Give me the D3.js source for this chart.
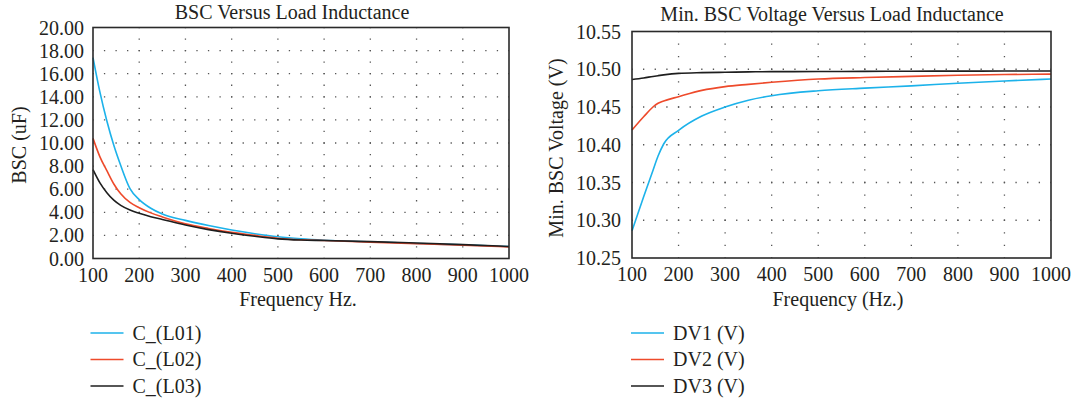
<!DOCTYPE html>
<html>
<head>
<meta charset="utf-8">
<script src="https://cdn.jsdelivr.net/npm/d3@7"></script>
<style>
  body { margin: 0; background: #fff; }
  svg { display: block; }
  text { font-family: "Liberation Serif", "DejaVu Serif", serif; fill: #231f20; }
</style>
</head>
<body>
<svg id="drawing_region"></svg>
<script>
// left panel: BSC (uF)
const freqL = [100, 115, 130, 145, 160, 180, 200, 225, 250, 300, 350, 400, 450, 500, 550, 600, 700, 800, 900, 1000];
const cL01 = [17.4, 14.4, 11.9, 9.8, 8.05, 6.05, 5.1, 4.35, 3.85, 3.3, 2.85, 2.47, 2.15, 1.88, 1.7, 1.58, 1.45, 1.3, 1.18, 1.03];
const cL02 = [10.4, 8.8, 7.6, 6.45, 5.6, 4.85, 4.4, 3.95, 3.6, 3.0, 2.6, 2.27, 2.0, 1.76, 1.62, 1.56, 1.42, 1.28, 1.15, 1.0];
const cL03 = [7.7, 6.55, 5.7, 5.05, 4.6, 4.2, 3.92, 3.62, 3.38, 2.9, 2.5, 2.18, 1.92, 1.7, 1.6, 1.56, 1.46, 1.34, 1.2, 1.04];

// right panel: min BSC voltage (V)
const freqR = [100, 125, 145, 156, 168, 200, 250, 300, 350, 400, 500, 600, 700, 800, 900, 1000];
const dv1 = [10.286, 10.331, 10.366, 10.385, 10.401, 10.419, 10.438, 10.450, 10.459, 10.465, 10.4715, 10.475, 10.478, 10.4815, 10.4845, 10.487];
const dv2 = [10.4195, 10.437, 10.450, 10.455, 10.458, 10.4637, 10.472, 10.477, 10.480, 10.4827, 10.487, 10.489, 10.4905, 10.492, 10.493, 10.4935];
const dv3 = [10.4865, 10.4885, 10.4905, 10.4915, 10.4925, 10.4945, 10.4955, 10.496, 10.4965, 10.4968, 10.497, 10.4972, 10.4974, 10.4975, 10.4976, 10.4977];

const xTicks = [100, 200, 300, 400, 500, 600, 700, 800, 900, 1000];
const yTicksL = [0, 2, 4, 6, 8, 10, 12, 14, 16, 18, 20];
const yTicksR = [10.25, 10.30, 10.35, 10.40, 10.45, 10.50, 10.55];

const namesL = ["C_(L01)", "C_(L02)", "C_(L03)"];
const namesR = ["DV1 (V)", "DV2 (V)", "DV3 (V)"];
const colors = ["#1cb2ea", "#ee4a2b", "#1e1e1e"];

const svg = d3.select('#drawing_region')
    .attr('width', 1071)
    .attr('height', 400);

class LinePanel {
    constructor( config, x, series ) {
        this.config = config;
        this.x = x;
        this.series = series;
        this.init();
    }

    init() {
        let self = this;
        const c = self.config;

        self.xscale = d3.scaleLinear().domain([100, 1000]).range([c.left, c.right]);
        self.yscale = d3.scaleLinear().domain(c.ydomain).range([c.bottom, c.top]);

        self.g = svg.append('g');

        // dotted grid
        const xstep = self.xscale(200) - self.xscale(100);
        const ystep = self.yscale(c.yticks[0]) - self.yscale(c.yticks[1]);
        const hp = xstep / 4, vp = ystep / c.vdots;

        self.g.selectAll('.hgrid')
            .data(c.yticks.slice(1, -1))
            .join('line')
            .attr('x1', c.left).attr('x2', c.right)
            .attr('y1', d => self.yscale(d)).attr('y2', d => self.yscale(d))
            .attr('stroke', '#555').attr('stroke-width', 1.3)
            .attr('stroke-dasharray', `1.3,${hp - 1.3}`)
            .attr('stroke-dashoffset', 0.65);

        self.g.selectAll('.vgrid')
            .data(xTicks.slice(1, -1))
            .join('line')
            .attr('x1', d => self.xscale(d)).attr('x2', d => self.xscale(d))
            .attr('y1', c.bottom).attr('y2', c.top)
            .attr('stroke', '#555').attr('stroke-width', 1.3)
            .attr('stroke-dasharray', `1.3,${vp - 1.3}`)
            .attr('stroke-dashoffset', 0.65);

        // curves
        const line = d3.line()
            .x((d, i) => self.xscale(self.x[i]))
            .y(d => self.yscale(d))
            .curve(d3.curveMonotoneX);

        self.g.selectAll('.curve')
            .data(self.series)
            .join('path')
            .attr('d', d => line(d))
            .attr('fill', 'none')
            .attr('stroke', (d, i) => colors[i])
            .attr('stroke-width', 1.6);

        // frame
        self.g.append('rect')
            .attr('x', c.left).attr('y', c.top)
            .attr('width', c.right - c.left).attr('height', c.bottom - c.top)
            .attr('fill', 'none').attr('stroke', '#2a2a2a').attr('stroke-width', 1.6);

        // tick labels
        self.g.selectAll('.xt')
            .data(xTicks)
            .join('text')
            .attr('x', d => self.xscale(d))
            .attr('y', c.bottom + 23)
            .attr('text-anchor', 'middle')
            .attr('font-size', '20px')
            .text(d => d);

        self.g.selectAll('.yt')
            .data(c.yticks)
            .join('text')
            .attr('x', c.left - c.ygap)
            .attr('y', d => self.yscale(d) + 7)
            .attr('text-anchor', 'end')
            .attr('font-size', '20px')
            .text(d => d3.format('.2f')(d));

        // titles
        self.g.append('text')
            .attr('x', c.titleX).attr('y', c.titleY)
            .attr('text-anchor', 'middle')
            .attr('font-size', '20px')
            .text(c.title);

        self.g.append('text')
            .attr('x', c.xlabelX).attr('y', 306)
            .attr('text-anchor', 'middle')
            .attr('font-size', '20px')
            .text(c.xlabel);

        self.g.append('text')
            .attr('transform', `translate(${c.ylabelX}, ${c.ylabelY}) rotate(-90)`)
            .attr('text-anchor', 'middle')
            .attr('font-size', '20px')
            .text(c.ylabel);

        // legend
        const lg = self.g.selectAll('.legend')
            .data(c.names)
            .join('g')
            .attr('transform', (d, i) => `translate(${c.legendX}, ${333 + i * 26.5})`);

        lg.append('line')
            .attr('x1', 0).attr('x2', 33)
            .attr('stroke', (d, i) => colors[i])
            .attr('stroke-width', 1.6);

        lg.append('text')
            .attr('x', 42).attr('y', 6.5)
            .attr('font-size', '20px')
            .text(d => d);
    }
}

new LinePanel({
    left: 93, right: 509, top: 27.5, bottom: 258.5,
    ydomain: [0, 20], yticks: yTicksL, vdots: 2, ygap: 9,
    title: "BSC Versus Load Inductance", titleX: 292, titleY: 18.5,
    xlabel: "Frequency Hz.", xlabelX: 298,
    ylabel: "BSC (uF)", ylabelX: 26, ylabelY: 145,
    names: namesL, legendX: 90.5
}, freqL, [cL01, cL02, cL03]);

new LinePanel({
    left: 632, right: 1051, top: 31.5, bottom: 258,
    ydomain: [10.25, 10.55], yticks: yTicksR, vdots: 3, ygap: 11,
    title: "Min. BSC Voltage Versus Load Inductance", titleX: 832, titleY: 20.5,
    xlabel: "Frequency (Hz.)", xlabelX: 838,
    ylabel: "Min. BSC Voltage (V)", ylabelX: 563, ylabelY: 148,
    names: namesR, legendX: 631
}, freqR, [dv1, dv2, dv3]);
</script>
</body>
</html>
